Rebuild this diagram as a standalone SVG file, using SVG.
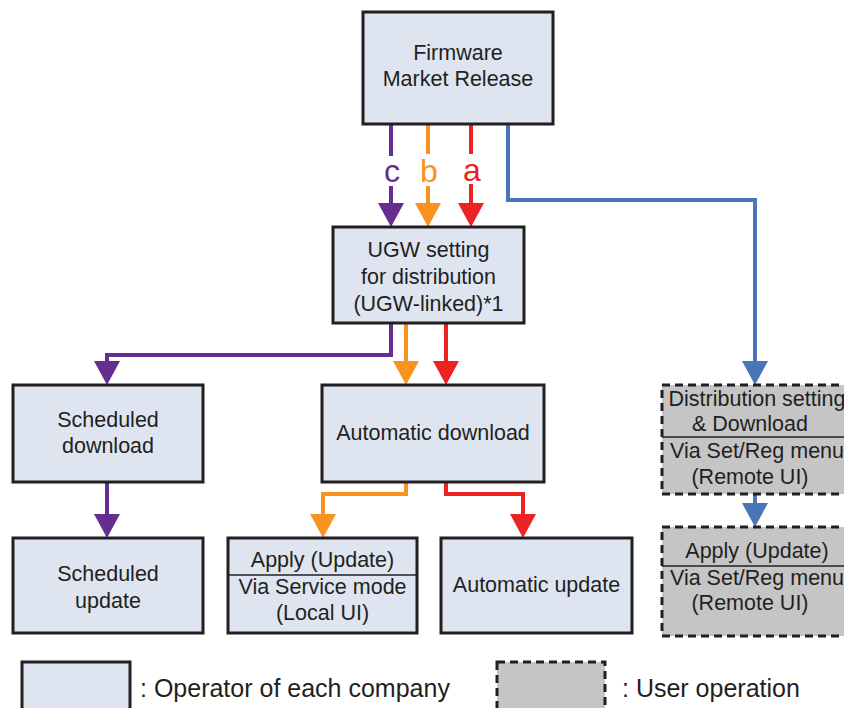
<svg xmlns="http://www.w3.org/2000/svg" width="844" height="708" viewBox="0 0 844 708">
<defs>
<style>
.box{fill:#dee5f0;stroke:#231f20;stroke-width:3}
.user{fill:#c5c5c6;stroke:#231f20;stroke-width:3;stroke-dasharray:8 5}
.t{font-family:"Liberation Sans",Arial,sans-serif;font-size:21.5px;fill:#231f20;text-anchor:middle}
.lg{font-family:"Liberation Sans",Arial,sans-serif;font-size:25px;fill:#231f20}
.lbl{font-family:"Liberation Sans",Arial,sans-serif;font-size:32px;text-anchor:middle}
.div{stroke:#231f20;stroke-width:1.5}
.c{fill:none;stroke-width:4}
.pu{stroke:#662d91}.or{stroke:#f7931e}.re{stroke:#ed2224}.bl{stroke:#4a76b8}
</style>
<marker id="mpu" markerUnits="userSpaceOnUse" markerWidth="26" markerHeight="24" refX="13" refY="4" viewBox="0 0 26 24"><path d="M0,0 H26 L13,24 Z" fill="#662d91"/></marker>
<marker id="mor" markerUnits="userSpaceOnUse" markerWidth="26" markerHeight="24" refX="13" refY="4" viewBox="0 0 26 24"><path d="M0,0 H26 L13,24 Z" fill="#f7931e"/></marker>
<marker id="mre" markerUnits="userSpaceOnUse" markerWidth="26" markerHeight="24" refX="13" refY="4" viewBox="0 0 26 24"><path d="M0,0 H26 L13,24 Z" fill="#ed2224"/></marker>
<marker id="mbl" markerUnits="userSpaceOnUse" markerWidth="26" markerHeight="24" refX="13" refY="4" viewBox="0 0 26 24"><path d="M0,0 H26 L13,24 Z" fill="#4a76b8"/></marker>
</defs>
<rect width="844" height="708" fill="#ffffff"/>

<g id="connectors">
<path class="c pu" d="M391,124 V156"/>
<path class="c pu" d="M391,186 V207" marker-end="url(#mpu)"/>
<path class="c or" d="M428,124 V154"/>
<path class="c or" d="M428,186 V207" marker-end="url(#mor)"/>
<path class="c re" d="M471,124 V154"/>
<path class="c re" d="M471,184 V207" marker-end="url(#mre)"/>
<text class="lbl" x="392" y="182" fill="#662d91">c</text>
<text class="lbl" x="429" y="182" fill="#f7931e">b</text>
<text class="lbl" x="472" y="181" fill="#ed2224">a</text>
<path class="c bl" d="M508,124 V200 H755 V365" marker-end="url(#mbl)"/>
<path class="c pu" d="M391,323 V355 H107 V365" marker-end="url(#mpu)"/>
<path class="c or" d="M406,323 V365" marker-end="url(#mor)"/>
<path class="c re" d="M446,323 V365" marker-end="url(#mre)"/>
<path class="c pu" d="M107,482 V518" marker-end="url(#mpu)"/>
<path class="c or" d="M406,482 V494 H323 V518" marker-end="url(#mor)"/>
<path class="c re" d="M446,482 V494 H523 V518" marker-end="url(#mre)"/>
<path class="c bl" d="M755,494 V507" marker-end="url(#mbl)"/>
</g>

<g id="firmware">
<rect class="box" x="363" y="12" width="190" height="112"/>
<text class="t" x="458" y="60">Firmware</text>
<text class="t" x="458" y="86">Market Release</text>
</g>

<g id="ugw">
<rect class="box" x="333" y="227" width="191" height="96"/>
<text class="t" x="428.5" y="257">UGW setting</text>
<text class="t" x="428.5" y="284">for distribution</text>
<text class="t" x="428.5" y="311">(UGW-linked)*1</text>
</g>

<g id="sched-download">
<rect class="box" x="13" y="385" width="190" height="97"/>
<text class="t" x="108" y="427">Scheduled</text>
<text class="t" x="108" y="453">download</text>
</g>

<g id="auto-download">
<rect class="box" x="322" y="385" width="222" height="97"/>
<text class="t" x="433" y="440">Automatic download</text>
</g>

<g id="dist-setting">
<rect class="user" x="662" y="385" width="190" height="109"/>
<text class="t" x="757" y="406">Distribution setting</text>
<text class="t" x="750" y="431">&amp; Download</text>
<line class="div" x1="662" y1="437" x2="844" y2="437"/>
<text class="t" x="757" y="458">Via Set/Reg menu</text>
<text class="t" x="750" y="484">(Remote UI)</text>
</g>

<g id="sched-update">
<rect class="box" x="13" y="538" width="190" height="95"/>
<text class="t" x="108" y="581">Scheduled</text>
<text class="t" x="108" y="608">update</text>
</g>

<g id="apply-local">
<rect class="box" x="228" y="538" width="189" height="95"/>
<text class="t" x="322.5" y="567">Apply (Update)</text>
<line class="div" x1="228" y1="575" x2="417" y2="575"/>
<text class="t" x="322.5" y="594">Via Service mode</text>
<text class="t" x="322.5" y="620">(Local UI)</text>
</g>

<g id="auto-update">
<rect class="box" x="441" y="538" width="191" height="95"/>
<text class="t" x="536.5" y="592">Automatic update</text>
</g>

<g id="apply-remote">
<rect class="user" x="662" y="527" width="190" height="109"/>
<text class="t" x="757" y="558">Apply (Update)</text>
<line class="div" x1="662" y1="566" x2="844" y2="566"/>
<text class="t" x="757" y="585">Via Set/Reg menu</text>
<text class="t" x="750" y="610">(Remote UI)</text>
</g>

<g id="legend-operator">
<rect class="box" x="22" y="662" width="108" height="52"/>
<text class="lg" x="140" y="697">: Operator of each company</text>
</g>

<g id="legend-user">
<rect class="user" x="497" y="662" width="108" height="52"/>
<text class="lg" x="622" y="697">: User operation</text>
</g>
</svg>
